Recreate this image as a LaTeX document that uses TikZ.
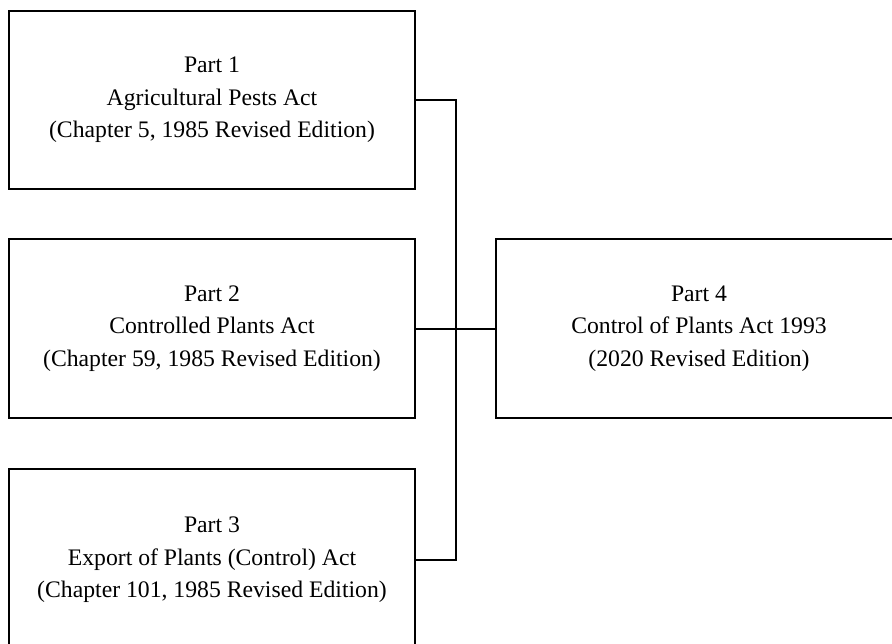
\documentclass[tikz,border=0pt]{standalone}
\usepackage{fontspec}
\setmainfont{Liberation Serif}
\tikzset{
  partbox/.style={draw=black, line width=2pt, rectangle, minimum width=406pt, align=center, inner sep=0pt, font=\fontsize{23.7}{32.5}\selectfont},
  link/.style={draw=black, line width=2pt}
}
\begin{document}
\begin{tikzpicture}[x=1pt,y=-1pt]
\useasboundingbox (0,0) rectangle (892,643);
\fill[white] (0,0) rectangle (892,643);
\clip (0,0) rectangle (892,643);
\node[partbox, minimum height=178pt] (p1) at (212,100) {Part 1\\Agricultural Pests Act\\(Chapter 5, 1985 Revised Edition)};
\node[partbox, minimum height=179pt] (p2) at (212,328.5) {Part 2\\Controlled Plants Act\\(Chapter 59, 1985 Revised Edition)};
\node[partbox, minimum height=182pt] (p3) at (212,560) {Part 3\\Export of Plants (Control) Act\\(Chapter 101, 1985 Revised Edition)};
\node[partbox, minimum height=179pt] (p4) at (699,328.5) {Part 4\\Control of Plants Act 1993\\(2020 Revised Edition)};
\coordinate (bus) at (456,0);
\draw[link] (p1.east) -- (p1.east -| bus) -- (p3.east -| bus) -- (p3.east);
\draw[link] (p2.east) -- (p4.west);
\end{tikzpicture}
\end{document}
